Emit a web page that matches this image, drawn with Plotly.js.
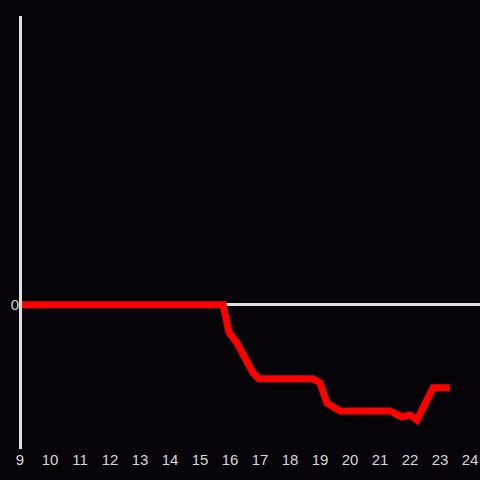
<!DOCTYPE html>
<html><head><meta charset="utf-8">
<script src="https://cdn.plot.ly/plotly-3.0.1.min.js"></script>
<style>html,body{margin:0;padding:0;background:#050307;}#chart{width:480px;height:480px;}</style>
</head><body><div id="chart"></div>
<script>
const hours = [9, 10, 11, 12, 13, 14, 15, 15.77, 15.97, 16.23, 16.77, 16.97, 18.77, 19.0, 19.23, 19.67, 21.33, 21.73, 22.0, 22.23, 22.77, 23.33];
const values = [0, 0, 0, 0, 0, 0, 0, 0, -0.28, -0.38, -0.68, -0.74, -0.74, -0.78, -0.98, -1.06, -1.06, -1.12, -1.10, -1.15, -0.83, -0.83];
const xTicks = [9,10,11,12,13,14,15,16,17,18,19,20,21,22,23,24];

Plotly.newPlot('chart', [{
  x: hours, y: values, type: 'scatter', mode: 'lines',
  line: {color: '#ff0000', width: 7}, hoverinfo: 'none'
}], {
  width: 480, height: 480,
  paper_bgcolor: '#050307', plot_bgcolor: '#050307',
  margin: {l: 20, r: 0, t: 16, b: 31},
  showlegend: false,
  font: {family: 'Liberation Sans, Arial, sans-serif', size: 15, color: '#d8d8d8'},
  xaxis: {range: [9, 24.333], tickvals: xTicks, ticktext: xTicks.map(String),
          showgrid: false, zeroline: false, showline: false, ticks: '', ticklen: 0},
  yaxis: {range: [-1.44, 2.88], tickvals: [0], ticktext: ['0'],
          showgrid: false, zeroline: true, zerolinecolor: '#e0e0e0', zerolinewidth: 3,
          showline: false, ticks: ''},
  shapes: [{type: 'line', xref: 'paper', yref: 'paper', x0: 0.5/460, x1: 0.5/460, y0: 0, y1: 1,
            line: {color: '#e0e0e0', width: 3}, layer: 'above'}]
}, {staticPlot: true});
</script></body></html>
